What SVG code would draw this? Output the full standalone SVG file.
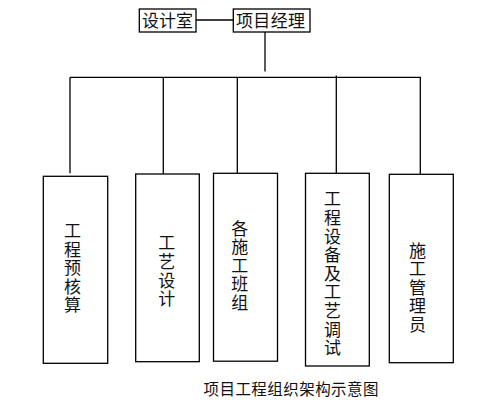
<svg xmlns="http://www.w3.org/2000/svg" width="495" height="407" viewBox="0 0 495 407">
<style>
.box{fill:#fff;stroke:#000;stroke-width:1.3}
.ln{stroke:#000;stroke-width:1.3;fill:none}
.t{font-family:"Noto Sans CJK SC","Noto Sans",sans-serif;font-size:17px;fill:#111;text-anchor:middle;writing-mode:vertical-rl;letter-spacing:1.6px}
.h{font-family:"Noto Sans CJK SC","Noto Sans",sans-serif;font-size:17px;fill:#111}
.cap{font-family:"Noto Sans CJK SC","Noto Sans",sans-serif;font-size:15.5px;fill:#111}
</style>
<rect width="495" height="407" fill="#fff"/>
<g id="connectors">
<line class="ln" x1="196" y1="20" x2="233" y2="20"/>
<line class="ln" x1="265" y1="32" x2="265" y2="71.5"/>
<line class="ln" x1="70" y1="77.3" x2="421" y2="77.3"/>
<line class="ln" x1="70" y1="77.3" x2="70" y2="173.3"/>
<line class="ln" x1="163.3" y1="77.3" x2="163.3" y2="174"/>
<line class="ln" x1="237.3" y1="77.3" x2="237.3" y2="173.3"/>
<line class="ln" x1="336.3" y1="75.5" x2="336.3" y2="173.3"/>
<line class="ln" x1="420.3" y1="77.3" x2="420.3" y2="174.3"/>
</g>
<g id="design-room">
<rect class="box" x="139.3" y="9" width="56.7" height="23"/>
<text class="h" x="142" y="27" textLength="51">设计室</text>
</g>
<g id="project-manager">
<rect class="box" x="233.3" y="9" width="76.7" height="23"/>
<text class="h" x="236" y="27" textLength="69">项目经理</text>
</g>
<g id="budget">
<rect class="box" x="43.3" y="176.3" width="64.4" height="187"/>
<text class="t" x="72.5" y="268.6">工程预核算</text>
</g>
<g id="process-design">
<rect class="box" x="135.7" y="174" width="63.6" height="187.7"/>
<text class="t" x="166.7" y="271.6">工艺设计</text>
</g>
<g id="construction-teams">
<rect class="box" x="213.5" y="173.3" width="64" height="187.9"/>
<text class="t" x="239.7" y="266.2">各施工班组</text>
</g>
<g id="equipment-commissioning">
<rect class="box" x="305.5" y="173.3" width="63.8" height="192.7"/>
<text class="t" x="332.5" y="274.1">工程设备及工艺调试</text>
</g>
<g id="construction-management">
<rect class="box" x="389.3" y="174.3" width="64" height="188.4"/>
<text class="t" x="417.5" y="288.2">施工管理员</text>
</g>
<text class="cap" x="203.5" y="395" textLength="175">项目工程组织架构示意图</text>
</svg>
